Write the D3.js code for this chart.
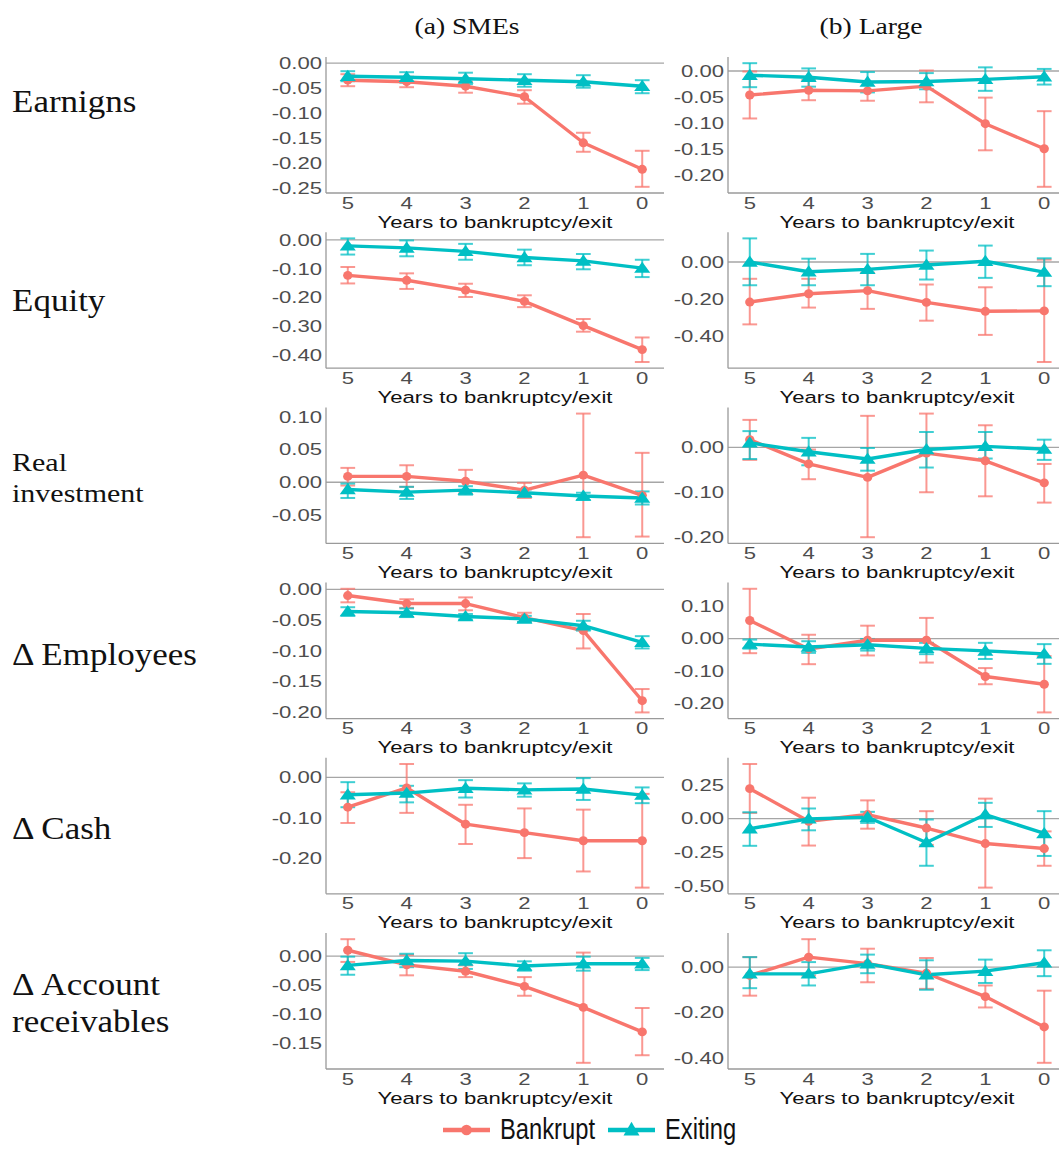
<!DOCTYPE html>
<html>
<head>
<meta charset="utf-8">
<script src="https://cdn.jsdelivr.net/npm/d3@7"></script>
<style>
  html, body { margin: 0; padding: 0; background: #fff; }
  svg { display: block; }
</style>
</head>
<body>
<svg id="chart" width="1059" height="1149"></svg>
<script>
// ---- data -------------------------------------------------------------
const years = [5, 4, 3, 2, 1, 0];
const seriesNames = ["Bankrupt", "Exiting"];
const columnTitles = ["(a) SMEs", "(b) Large"];
const rowLabels = [["Earnigns"], ["Equity"], ["Real", "investment"], ["\u0394 Employees"], ["\u0394 Cash"], ["\u0394 Account", "receivables"]];
const xAxisTitle = "Years to bankruptcy/exit";

// each entry: [estimate, lower, upper] for years 5..0
const earningsSmeBankrupt = [[-0.034,-0.046,-0.022],[-0.037,-0.048,-0.027],[-0.046,-0.059,-0.037],[-0.067,-0.081,-0.054],[-0.159,-0.177,-0.139],[-0.212,-0.247,-0.175]];
const earningsSmeExiting  = [[-0.026,-0.036,-0.016],[-0.028,-0.039,-0.018],[-0.031,-0.042,-0.019],[-0.034,-0.047,-0.022],[-0.037,-0.049,-0.024],[-0.046,-0.060,-0.034]];
const earningsLargeBankrupt = [[-0.046,-0.091,-0.001],[-0.037,-0.056,-0.017],[-0.038,-0.057,-0.021],[-0.029,-0.060,0.001],[-0.101,-0.152,-0.051],[-0.149,-0.222,-0.077]];
const earningsLargeExiting  = [[-0.008,-0.031,0.015],[-0.012,-0.030,0.005],[-0.021,-0.041,-0.002],[-0.020,-0.035,-0.004],[-0.016,-0.038,0.007],[-0.011,-0.026,0.004]];

const equitySmeBankrupt = [[-0.123,-0.151,-0.094],[-0.140,-0.170,-0.116],[-0.174,-0.198,-0.152],[-0.213,-0.233,-0.192],[-0.297,-0.318,-0.274],[-0.380,-0.423,-0.338]];
const equitySmeExiting  = [[-0.021,-0.051,0.005],[-0.028,-0.057,-0.002],[-0.040,-0.069,-0.014],[-0.061,-0.088,-0.034],[-0.073,-0.102,-0.049],[-0.098,-0.129,-0.069]];
const equityLargeBankrupt = [[-0.217,-0.338,-0.091],[-0.172,-0.247,-0.091],[-0.155,-0.254,-0.058],[-0.219,-0.318,-0.122],[-0.267,-0.395,-0.137],[-0.265,-0.542,0.013]];
const equityLargeExiting  = [[0.000,-0.126,0.128],[-0.053,-0.126,0.018],[-0.040,-0.126,0.044],[-0.016,-0.095,0.062],[0.004,-0.086,0.089],[-0.055,-0.131,0.020]];

const investSmeBankrupt = [[0.009,-0.005,0.022],[0.009,-0.007,0.026],[0.0015,-0.017,0.019],[-0.012,-0.024,-0.001],[0.011,-0.084,0.105],[-0.020,-0.083,0.045]];
const investSmeExiting  = [[-0.011,-0.024,-0.002],[-0.015,-0.0255,-0.007],[-0.012,-0.019,-0.006],[-0.016,-0.022,-0.011],[-0.021,-0.027,-0.016],[-0.024,-0.034,-0.014]];
const investLargeBankrupt = [[0.017,-0.028,0.061],[-0.037,-0.071,-0.005],[-0.067,-0.200,0.070],[-0.013,-0.100,0.075],[-0.030,-0.109,0.049],[-0.079,-0.123,-0.037]];
const investLargeExiting  = [[0.010,-0.026,0.036],[-0.010,-0.040,0.021],[-0.026,-0.052,-0.0015],[-0.005,-0.045,0.034],[0.002,-0.025,0.034],[-0.004,-0.028,0.017]];

const employeesSmeBankrupt = [[-0.010,-0.021,0.001],[-0.023,-0.030,-0.016],[-0.023,-0.034,-0.013],[-0.046,-0.053,-0.038],[-0.067,-0.096,-0.040],[-0.181,-0.200,-0.162]];
const employeesSmeExiting  = [[-0.036,-0.043,-0.029],[-0.038,-0.045,-0.031],[-0.044,-0.049,-0.040],[-0.048,-0.053,-0.043],[-0.059,-0.067,-0.051],[-0.086,-0.096,-0.076]];
const employeesLargeBankrupt = [[0.056,-0.045,0.154],[-0.032,-0.079,0.012],[-0.005,-0.052,0.040],[-0.005,-0.074,0.064],[-0.117,-0.141,-0.091],[-0.141,-0.228,-0.054]];
const employeesLargeExiting  = [[-0.017,-0.031,-0.003],[-0.026,-0.044,-0.008],[-0.019,-0.037,-0.001],[-0.030,-0.048,-0.013],[-0.038,-0.063,-0.013],[-0.047,-0.078,-0.017]];

const cashSmeBankrupt = [[-0.074,-0.113,-0.037],[-0.026,-0.088,0.033],[-0.116,-0.165,-0.068],[-0.137,-0.200,-0.077],[-0.157,-0.233,-0.080],[-0.157,-0.273,-0.041]];
const cashSmeExiting  = [[-0.043,-0.074,-0.012],[-0.039,-0.062,-0.021],[-0.027,-0.050,-0.007],[-0.031,-0.048,-0.015],[-0.029,-0.056,-0.002],[-0.044,-0.064,-0.025]];
const cashLargeBankrupt = [[0.222,0.042,0.405],[-0.020,-0.200,0.155],[0.030,-0.075,0.135],[-0.070,-0.195,0.055],[-0.185,-0.512,0.148],[-0.222,-0.350,-0.095]];
const cashLargeExiting  = [[-0.075,-0.202,0.047],[-0.002,-0.087,0.075],[0.010,-0.032,0.050],[-0.177,-0.350,-0.007],[0.030,-0.062,0.117],[-0.110,-0.277,0.055]];

const receivSmeBankrupt = [[0.010,-0.010,0.029],[-0.015,-0.033,0.002],[-0.026,-0.036,-0.016],[-0.052,-0.068,-0.036],[-0.088,-0.183,0.006],[-0.130,-0.170,-0.089]];
const receivSmeExiting  = [[-0.016,-0.032,-0.001],[-0.0075,-0.019,0.004],[-0.0086,-0.022,0.005],[-0.017,-0.025,-0.009],[-0.013,-0.025,-0.001],[-0.013,-0.024,-0.003]];
const receivLargeBankrupt = [[-0.037,-0.126,0.044],[0.044,-0.037,0.123],[0.015,-0.067,0.081],[-0.027,-0.096,0.040],[-0.130,-0.178,-0.081],[-0.264,-0.422,-0.104]];
const receivLargeExiting  = [[-0.030,-0.093,0.044],[-0.030,-0.081,0.022],[0.015,-0.027,0.055],[-0.034,-0.100,0.030],[-0.018,-0.070,0.033],[0.019,-0.040,0.074]];

// y-axis tick values per panel
const earningsSmeTicks = [0, -0.05, -0.10, -0.15, -0.20, -0.25];
const earningsLargeTicks = [0, -0.05, -0.10, -0.15, -0.20];
const equitySmeTicks = [0, -0.10, -0.20, -0.30, -0.40];
const equityLargeTicks = [0, -0.20, -0.40];
const investSmeTicks = [0.10, 0.05, 0, -0.05];
const investLargeTicks = [0, -0.10, -0.20];
const employeesSmeTicks = [0, -0.05, -0.10, -0.15, -0.20];
const employeesLargeTicks = [0.10, 0, -0.10, -0.20];
const cashSmeTicks = [0, -0.10, -0.20];
const cashLargeTicks = [0.25, 0, -0.25, -0.50];
const receivSmeTicks = [0, -0.05, -0.10, -0.15];
const receivLargeTicks = [0, -0.20, -0.40];

// panels in row order, [SMEs, Large]
const panels = [
  [[earningsSmeBankrupt, earningsSmeExiting, earningsSmeTicks], [earningsLargeBankrupt, earningsLargeExiting, earningsLargeTicks]],
  [[equitySmeBankrupt, equitySmeExiting, equitySmeTicks], [equityLargeBankrupt, equityLargeExiting, equityLargeTicks]],
  [[investSmeBankrupt, investSmeExiting, investSmeTicks], [investLargeBankrupt, investLargeExiting, investLargeTicks]],
  [[employeesSmeBankrupt, employeesSmeExiting, employeesSmeTicks], [employeesLargeBankrupt, employeesLargeExiting, employeesLargeTicks]],
  [[cashSmeBankrupt, cashSmeExiting, cashSmeTicks], [cashLargeBankrupt, cashLargeExiting, cashLargeTicks]],
  [[receivSmeBankrupt, receivSmeExiting, receivSmeTicks], [receivLargeBankrupt, receivLargeExiting, receivLargeTicks]]
];

// ---- layout & style ---------------------------------------------------
const colors = ["#F8766D", "#00BFC4"];
const colLeft = [326, 728];
const titleCenter = [467, 871];
const plotW = 338, plotH = 136;
const rowTop0 = 57, rowPitch = 175.2;
const sansFont = "'Liberation Sans', Arial, Helvetica, sans-serif";
const serifFont = "'Palatino Linotype', 'Book Antiqua', Palatino, 'Liberation Serif', serif";
const stretchX = 1.38;   // the axis text is drawn wide

const svg = d3.select("#chart");

// column titles
columnTitles.forEach((t, c) => {
  svg.append("text")
    .attr("transform", `translate(${titleCenter[c]},34) scale(1.2,1)`)
    .attr("text-anchor", "middle")
    .style("font-family", serifFont).style("font-size", "23px").style("fill", "#111")
    .text(t);
});

// row labels
const rowLabelBase = [112, 311, 471, 665, 839, 995];
rowLabels.forEach((lines, r) => {
  const small = lines[0] === "Real";
  lines.forEach((ln, k) => {
    svg.append("text")
      .attr("transform", `translate(12,${rowLabelBase[r] + k * (small ? 31 : 37)}) scale(${small ? 1.2 : 1.13},1)`)
      .style("font-family", serifFont)
      .style("font-size", small ? "25px" : "31px")
      .style("fill", "#111")
      .text(ln);
  });
});

const fmt = d3.format(".2f");
const xScale = d3.scaleLinear().domain([5.37, -0.37]).range([0, plotW]);

panels.forEach((row, r) => {
  row.forEach((panel, c) => {
    const [bank, exitg, ticks] = panel;
    const series = [bank, exitg];
    const allVals = series.flatMap(s => s.flatMap(d => [d[1], d[2]])).concat([0]);
    const lo = d3.min(allVals), hi = d3.max(allVals);
    const pad = (hi - lo) * 0.05;
    const y = d3.scaleLinear().domain([lo - pad, hi + pad]).range([plotH, 0]);

    const g = svg.append("g")
      .attr("transform", `translate(${colLeft[c]},${rowTop0 + r * rowPitch})`);

    // zero reference line
    g.append("line")
      .attr("x1", 0).attr("x2", plotW)
      .attr("y1", y(0)).attr("y2", y(0))
      .attr("stroke", "#a6a6a6").attr("stroke-width", 1.3);

    // axis lines
    g.append("line").attr("x1", 0).attr("x2", 0).attr("y1", 0).attr("y2", plotH)
      .attr("stroke", "#9a9a9a").attr("stroke-width", 1.3);
    g.append("line").attr("x1", 0).attr("x2", plotW).attr("y1", plotH).attr("y2", plotH)
      .attr("stroke", "#9a9a9a").attr("stroke-width", 1.3);

    // y tick labels
    ticks.forEach(t => {
      g.append("text")
        .attr("transform", `translate(-4,${y(t) + 5.8}) scale(${stretchX},1)`)
        .attr("text-anchor", "end")
        .style("font-family", sansFont).style("font-size", "16px").style("fill", "#4d4d4d")
        .text(fmt(t).replace("\u2212", "-"));
    });

    // x tick labels
    years.forEach(yr => {
      g.append("text")
        .attr("transform", `translate(${xScale(yr)},${plotH + 15.5}) scale(${stretchX},1)`)
        .attr("text-anchor", "middle")
        .style("font-family", sansFont).style("font-size", "16px").style("fill", "#4d4d4d")
        .text(yr);
    });

    // x axis title
    g.append("text")
      .attr("transform", `translate(${xScale(2.5)},${plotH + 34.5}) scale(1.3,1)`)
      .attr("text-anchor", "middle")
      .style("font-family", sansFont).style("font-size", "17px").style("fill", "#111")
      .text(xAxisTitle);

    // error bars
    const capHalf = xScale(0) - xScale(0.125);
    series.forEach((s, si) => {
      const eb = g.append("g").attr("stroke", colors[si]).attr("stroke-opacity", 0.75)
        .attr("stroke-width", 2).attr("fill", "none");
      s.forEach((d, i) => {
        const cx = xScale(years[i]);
        eb.append("line").attr("x1", cx).attr("x2", cx).attr("y1", y(d[1])).attr("y2", y(d[2]));
        eb.append("line").attr("x1", cx - capHalf).attr("x2", cx + capHalf).attr("y1", y(d[1])).attr("y2", y(d[1]));
        eb.append("line").attr("x1", cx - capHalf).attr("x2", cx + capHalf).attr("y1", y(d[2])).attr("y2", y(d[2]));
      });
    });

    // lines
    const line = d3.line().x((d, i) => xScale(years[i])).y(d => y(d[0]));
    series.forEach((s, si) => {
      g.append("path").datum(s).attr("d", line)
        .attr("fill", "none").attr("stroke", colors[si]).attr("stroke-width", 3.4)
        .attr("stroke-linejoin", "round");
    });

    // points
    series.forEach((s, si) => {
      const sym = d3.symbol().type(si === 0 ? d3.symbolCircle : d3.symbolTriangle).size(si === 0 ? 62 : 72);
      g.selectAll(null).data(s).enter().append("path")
        .attr("d", sym)
        .attr("transform", (d, i) => `translate(${xScale(years[i])},${y(d[0]) + (si === 1 ? 1 : 0)}) scale(${si === 1 ? 1.25 : 1.05},1)`)
        .attr("fill", colors[si]);
    });
  });
});

// legend
const legend = svg.append("g").attr("transform", "translate(0,1130)");
const legendX = [443, 608];
seriesNames.forEach((name, i) => {
  const lx = legendX[i];
  legend.append("line").attr("x1", lx).attr("x2", lx + 47).attr("y1", 0).attr("y2", 0)
    .attr("stroke", colors[i]).attr("stroke-width", 4.5);
  const sym = d3.symbol().type(i === 0 ? d3.symbolCircle : d3.symbolTriangle).size(i === 0 ? 90 : 110);
  legend.append("path").attr("d", sym).attr("transform", `translate(${lx + 23.5},${i === 1 ? 1 : 0})`)
    .attr("fill", colors[i]);
  legend.append("text")
    .attr("transform", `translate(${lx + 57},9) scale(0.95,1.15)`)
    .style("font-family", sansFont).style("font-size", "25px").style("fill", "#111")
    .text(name);
});
</script>
</body>
</html>
